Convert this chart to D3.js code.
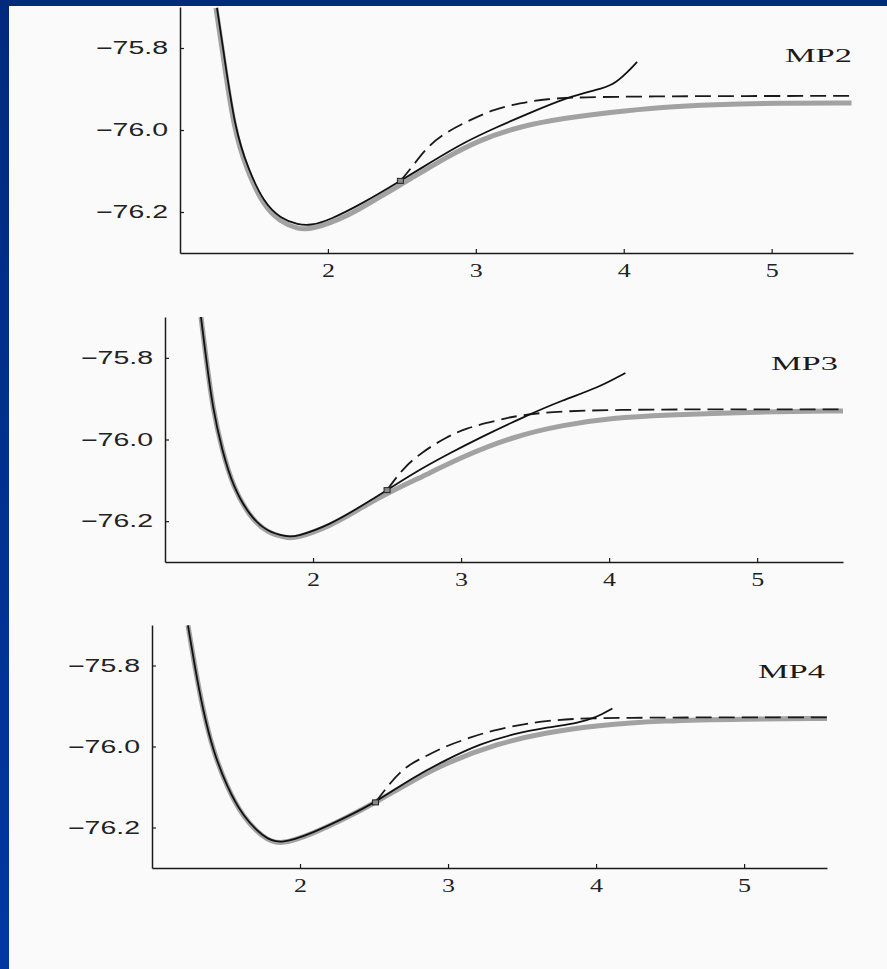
<!DOCTYPE html>
<html>
<head>
<meta charset="utf-8">
<script src="https://cdn.jsdelivr.net/npm/d3@7"></script>
<style>
  html, body { margin: 0; padding: 0; background: #fafafa; }
  svg { display: block; }
</style>
</head>
<body>
<script>
// Tick values and panel labels
const yTicks = [-75.8, -76.0, -76.2];
const xTicks = [2, 3, 4, 5];
const panelLabels = ["MP2", "MP3", "MP4"];

// MP2 panel: exact curve (grey), MPn curve (solid), extrapolation (dashed)
const mp2ExactR = [1.243, 1.284, 1.365, 1.453, 1.561, 1.676, 1.797, 1.88, 2.13, 2.35, 2.51, 2.8, 3.03, 3.25, 3.48, 3.93, 4.26, 4.6, 5.05, 5.54];
const mp2ExactE = [-75.702, -75.80, -76.002, -76.098, -76.183, -76.224, -76.241, -76.244, -76.212, -76.163, -76.13, -76.066, -76.024, -75.997, -75.977, -75.956, -75.944, -75.938, -75.934, -75.934];
const mp2SolidR = [1.25, 1.291, 1.372, 1.46, 1.566, 1.68, 1.80, 1.88, 2.01, 2.24, 2.49, 2.69, 2.91, 3.14, 3.36, 3.62, 3.82, 3.93, 4.02, 4.09];
const mp2SolidE = [-75.702, -75.80, -76.0, -76.094, -76.177, -76.216, -76.231, -76.233, -76.22, -76.178, -76.124, -76.08, -76.032, -75.993, -75.959, -75.92, -75.902, -75.89, -75.861, -75.834];
const mp2DashR = [2.49, 2.57, 2.67, 2.8, 2.96, 3.11, 3.30, 3.48, 3.7, 4.2, 4.8, 5.54];
const mp2DashE = [-76.124, -76.09, -76.041, -76.005, -75.976, -75.951, -75.934, -75.924, -75.92, -75.918, -75.917, -75.917];
const mp2Point = [2.49, -76.124];

// MP3 panel
const mp3ExactR = [1.243, 1.277, 1.324, 1.385, 1.459, 1.574, 1.689, 1.824, 1.88, 2.11, 2.34, 2.52, 2.79, 3.01, 3.35, 3.69, 4.03, 4.36, 5.0, 5.58];
const mp3ExactE = [-75.70, -75.80, -75.927, -76.025, -76.116, -76.19, -76.229, -76.241, -76.242, -76.214, -76.164, -76.128, -76.082, -76.042, -75.993, -75.964, -75.947, -75.94, -75.932, -75.93];
const mp3SolidR = [1.243, 1.277, 1.324, 1.385, 1.459, 1.574, 1.689, 1.824, 1.88, 2.11, 2.34, 2.5, 2.68, 2.91, 3.13, 3.42, 3.69, 3.92, 4.11];
const mp3SolidE = [-75.70, -75.80, -75.927, -76.025, -76.115, -76.188, -76.226, -76.238, -76.239, -76.21, -76.16, -76.124, -76.082, -76.036, -75.995, -75.945, -75.903, -75.874, -75.837];
const mp3DashR = [2.5, 2.61, 2.74, 2.9, 3.04, 3.18, 3.33, 3.40, 3.58, 4.03, 4.8, 5.58];
const mp3DashE = [-76.124, -76.069, -76.03, -75.994, -75.972, -75.959, -75.945, -75.942, -75.932, -75.927, -75.926, -75.926];
const mp3Point = [2.5, -76.124];

// MP4 panel
const mp4ExactR = [1.243, 1.29, 1.345, 1.412, 1.507, 1.615, 1.75, 1.86, 2.09, 2.32, 2.51, 2.76, 2.99, 3.33, 3.67, 4.0, 4.45, 5.0, 5.56];
const mp4ExactE = [-75.701, -75.805, -75.911, -76.01, -76.101, -76.175, -76.225, -76.245, -76.215, -76.175, -76.138, -76.084, -76.04, -75.993, -75.965, -75.948, -75.936, -75.932, -75.931];
const mp4SolidR = [1.243, 1.29, 1.345, 1.412, 1.507, 1.615, 1.75, 1.86, 2.09, 2.32, 2.51, 2.76, 2.99, 3.22, 3.44, 3.67, 3.89, 4.0, 4.11];
const mp4SolidE = [-75.701, -75.805, -75.911, -76.01, -76.1, -76.173, -76.223, -76.243, -76.213, -76.173, -76.138, -76.077, -76.032, -75.993, -75.969, -75.953, -75.941, -75.928, -75.906];
const mp4DashR = [2.51, 2.61, 2.72, 2.86, 2.99, 3.15, 3.30, 3.49, 3.64, 3.84, 4.2, 4.8, 5.56];
const mp4DashE = [-76.138, -76.089, -76.047, -76.022, -75.998, -75.978, -75.96, -75.946, -75.938, -75.931, -75.929, -75.928, -75.928];
const mp4Point = [2.51, -76.138];

const W = 887, H = 969;

const svg = d3.select("body").append("svg")
  .attr("width", W)
  .attr("height", H);

// slide frame
const defs = svg.append("defs");
const grad = defs.append("linearGradient")
  .attr("id", "sideBlue")
  .attr("x1", 0).attr("y1", 0).attr("x2", 0).attr("y2", 1);
grad.append("stop").attr("offset", "0%").attr("stop-color", "#012a7d");
grad.append("stop").attr("offset", "100%").attr("stop-color", "#0037a2");

svg.append("rect").attr("width", W).attr("height", H).attr("fill", "#fafafa");
svg.append("rect").attr("x", 0).attr("y", 0).attr("width", W).attr("height", 6).attr("fill", "#022a7c");
svg.append("rect").attr("x", 0).attr("y", 0).attr("width", 9).attr("height", H).attr("fill", "url(#sideBlue)");

// panel geometry
const panels = [
  { label: panelLabels[0], xDom: [1, 5.55], xRange: [180, 853], yRange: [253, 7],
    exact: [mp2ExactR, mp2ExactE], solid: [mp2SolidR, mp2SolidE], dash: [mp2DashR, mp2DashE],
    point: mp2Point, labelPos: [785, 62] },
  { label: panelLabels[1], xDom: [1, 5.58], xRange: [165, 843], yRange: [562, 317],
    exact: [mp3ExactR, mp3ExactE], solid: [mp3SolidR, mp3SolidE], dash: [mp3DashR, mp3DashE],
    point: mp3Point, labelPos: [771, 370] },
  { label: panelLabels[2], xDom: [1, 5.56], xRange: [152, 827], yRange: [868, 625],
    exact: [mp4ExactR, mp4ExactE], solid: [mp4SolidR, mp4SolidE], dash: [mp4DashR, mp4DashE],
    point: mp4Point, labelPos: [758, 678] }
];

const toPoints = ([xs, ys]) => xs.map((x, i) => [x, ys[i]]);

panels.forEach((p, i) => {
  const x = d3.scaleLinear().domain(p.xDom).range(p.xRange);
  const y = d3.scaleLinear().domain([-76.3, -75.7]).range(p.yRange);

  const g = svg.append("g");

  // clip curves to plot area
  defs.append("clipPath").attr("id", "clip" + i)
    .append("rect")
    .attr("x", p.xRange[0])
    .attr("y", p.yRange[1])
    .attr("width", p.xRange[1] - p.xRange[0])
    .attr("height", p.yRange[0] - p.yRange[1]);

  const line = d3.line()
    .x((d) => x(d[0]))
    .y((d) => y(d[1]))
    .curve(d3.curveBasis);

  const plot = g.append("g").attr("clip-path", `url(#clip${i})`);

  // exact curve: thick grey band
  plot.append("path")
    .datum(toPoints(p.exact))
    .attr("d", line)
    .attr("fill", "none")
    .attr("stroke", "#a2a2a2")
    .attr("stroke-width", 5);

  // extrapolation: dashed
  plot.append("path")
    .datum(toPoints(p.dash))
    .attr("d", line)
    .attr("fill", "none")
    .attr("stroke", "#1a1a1a")
    .attr("stroke-width", 1.8)
    .attr("stroke-dasharray", "16,7");

  // perturbation series: solid
  plot.append("path")
    .datum(toPoints(p.solid))
    .attr("d", line)
    .attr("fill", "none")
    .attr("stroke", "#111")
    .attr("stroke-width", 1.8);

  // joining point
  g.append("rect")
    .attr("x", x(p.point[0]) - 3)
    .attr("y", y(p.point[1]) - 2.5)
    .attr("width", 6)
    .attr("height", 5)
    .attr("fill", "#8a8a8a")
    .attr("stroke", "#222")
    .attr("stroke-width", 1);

  // axes
  const xAxis = d3.axisBottom(x)
    .tickValues(xTicks)
    .tickFormat(d3.format("d"))
    .tickSize(-4)
    .tickSizeOuter(0)
    .tickPadding(11);

  const yAxis = d3.axisLeft(y)
    .tickValues(yTicks)
    .tickFormat((d) => d3.format(".1f")(d).replace("-", "\u2212"))
    .tickSize(-4)
    .tickSizeOuter(0)
    .tickPadding(12);

  const gx = g.append("g")
    .attr("transform", `translate(0,${p.yRange[0]})`)
    .call(xAxis);
  gx.selectAll("text")
    .attr("fill", "#222")
    .style("font-family", "'Liberation Serif', 'Times New Roman', serif")
    .style("font-size", "18px")
    .attr("textLength", 13)
    .attr("lengthAdjust", "spacingAndGlyphs");

  const gy = g.append("g")
    .attr("transform", `translate(${p.xRange[0]},0)`)
    .call(yAxis);
  gy.selectAll("text")
    .attr("fill", "#222")
    .style("font-family", "'Liberation Sans', Arial, sans-serif")
    .style("font-size", "18px")
    .attr("textLength", 72)
    .attr("lengthAdjust", "spacingAndGlyphs");

  [gx, gy].forEach((a) => {
    a.select(".domain").attr("stroke", "#1a1a1a").attr("stroke-width", 1.5);
    a.selectAll(".tick line").attr("stroke", "#1a1a1a").attr("stroke-width", 1.2);
  });

  // method label
  g.append("text")
    .attr("x", p.labelPos[0])
    .attr("y", p.labelPos[1])
    .attr("fill", "#1a1a1a")
    .style("font-family", "'Liberation Serif', 'Times New Roman', serif")
    .style("font-size", "18px")
    .attr("textLength", 67)
    .attr("lengthAdjust", "spacingAndGlyphs")
    .text(p.label);
});
</script>
</body>
</html>
